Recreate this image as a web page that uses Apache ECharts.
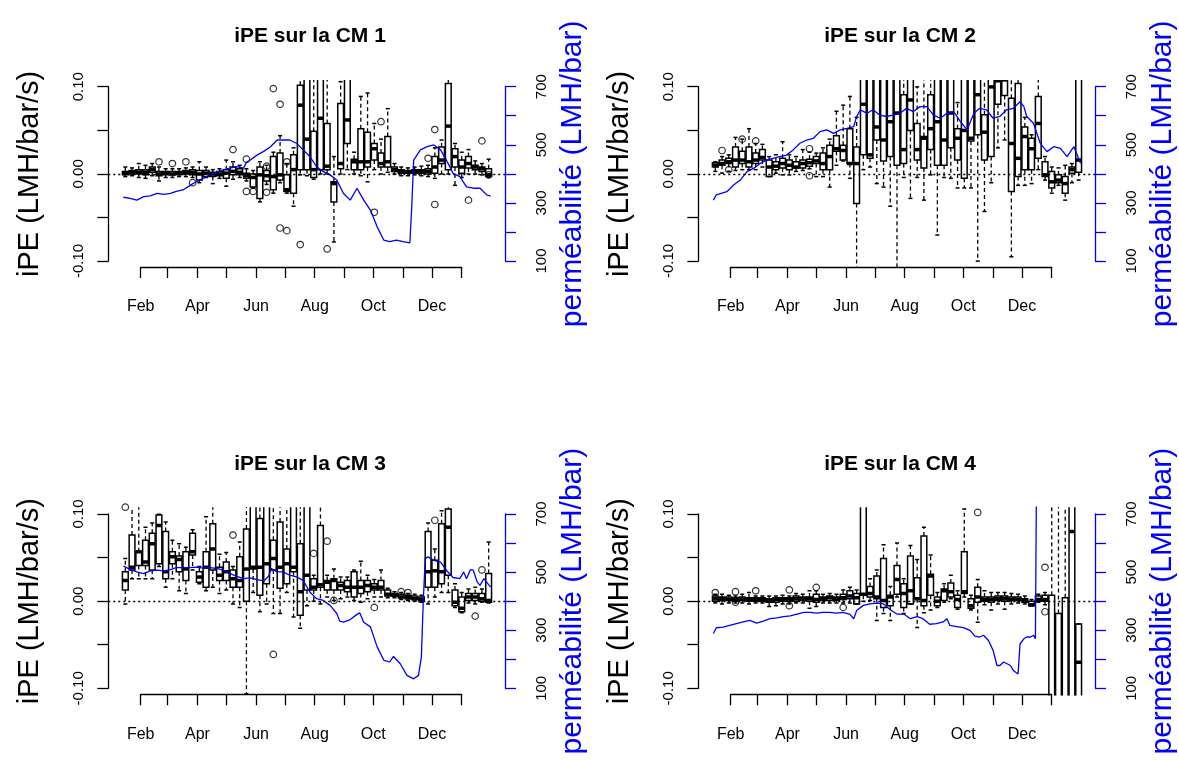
<!DOCTYPE html>
<html><head><meta charset="utf-8">
<script src="https://cdn.jsdelivr.net/npm/echarts@6/dist/echarts.min.js"></script>
<style>html,body{margin:0;padding:0;background:#fff}#c{width:1179px;height:762px}</style>
</head><body><div id="c"></div><script>
// ---- data ----
const boxDays = [15,22,29,36,43,50,57,64,71,78,85,92,99,106,113,120,127,134,141,148,155,162,169,176,183,190,197,204,211,218,225,232,239,246,253,260,267,274,281,288,295,302,309,316,323,330,337,344,351,358,365,372,379,386,393];
const monthTicks = [31,59,90,120,151,181,212,243,273,304,334,365];
const monthLabelDays = [31,90,151,212,273,334];
const monthLabels = ['Feb','Apr','Jun','Aug','Oct','Dec'];
const panelTitles = ['iPE sur la CM 1','iPE sur la CM 2','iPE sur la CM 3','iPE sur la CM 4'];

// boxes: [min, q1, median, q3, max]
const cm1Boxes = [
[-0.003,-0.001,0.001,0.003,0.008],[-0.002,0.000,0.002,0.004,0.007],[-0.004,0.000,0.002,0.005,0.012],[-0.005,-0.001,0.002,0.005,0.010],[-0.002,0.002,0.005,0.008,0.012],
[-0.008,-0.002,0.000,0.003,0.008],[-0.004,-0.001,0.001,0.003,0.006],[-0.004,-0.001,0.000,0.003,0.006],[-0.003,-0.001,0.001,0.003,0.006],[-0.003,0.000,0.002,0.004,0.007],
[-0.004,-0.001,0.002,0.005,0.008],[-0.010,-0.007,0.000,0.004,0.014],[-0.004,-0.003,0.001,0.004,0.008],[-0.011,-0.003,0.000,0.002,0.005],[-0.005,-0.002,0.000,0.003,0.006],
[-0.014,-0.005,0.001,0.005,0.016],[-0.006,-0.001,0.003,0.008,0.014],[-0.004,-0.001,0.002,0.006,0.010],[-0.008,-0.005,-0.002,0.001,0.006],[-0.016,-0.015,-0.004,0.000,0.004],
[-0.032,-0.028,-0.001,0.008,0.014],[-0.012,-0.008,-0.002,0.004,0.010],[-0.022,-0.018,-0.003,0.020,0.025],[-0.010,-0.007,-0.001,0.024,0.044],[-0.022,-0.020,-0.018,-0.001,0.012],
[-0.037,-0.022,0.005,0.022,0.030],[-0.001,0.005,0.079,0.102,0.150],[-0.002,0.005,0.040,0.150,0.150],[-0.006,-0.004,0.005,0.049,0.150],[0.000,0.005,0.064,0.150,0.150],
[0.000,0.005,0.009,0.058,0.150],[-0.078,-0.032,-0.011,-0.009,0.020],[0.000,0.006,0.012,0.081,0.106],[0.005,0.035,0.062,0.150,0.150],[0.000,0.005,0.014,0.017,0.025],
[-0.002,0.005,0.014,0.052,0.089],[-0.009,0.008,0.014,0.048,0.093],[0.005,0.016,0.029,0.035,0.058],[0.000,0.008,0.012,0.024,0.040],[0.002,0.008,0.014,0.043,0.075],
[0.000,0.003,0.005,0.008,0.012],[-0.002,0.001,0.003,0.005,0.008],[-0.002,0.001,0.002,0.004,0.007],[-0.001,0.001,0.003,0.005,0.008],[-0.002,0.001,0.003,0.005,0.009],
[-0.003,0.000,0.003,0.006,0.010],[-0.005,0.001,0.008,0.020,0.030],[0.000,0.012,0.016,0.031,0.039],[0.000,0.005,0.055,0.104,0.110],[-0.013,0.008,0.020,0.029,0.035],
[-0.004,0.001,0.008,0.016,0.025],[0.000,0.007,0.012,0.020,0.028],[0.000,0.005,0.008,0.010,0.015],[-0.001,0.003,0.006,0.008,0.012],[-0.004,-0.003,-0.001,0.006,0.017]
];
const cm2Boxes = [
[0.003,0.008,0.010,0.013,0.014],[0.001,0.010,0.012,0.016,0.020],[0.003,0.012,0.014,0.018,0.022],[0.004,0.008,0.016,0.031,0.042],[0.005,0.012,0.016,0.026,0.040],
[0.005,0.008,0.014,0.031,0.052],[0.005,0.012,0.016,0.024,0.035],[0.008,0.016,0.019,0.028,0.034],[-0.003,-0.003,0.008,0.016,0.020],[0.001,0.005,0.009,0.014,0.022],
[-0.001,0.007,0.012,0.018,0.037],[-0.001,0.005,0.010,0.016,0.022],[0.003,0.007,0.008,0.014,0.020],[0.004,0.007,0.012,0.016,0.028],[0.006,0.009,0.013,0.017,0.025],
[-0.003,0.012,0.015,0.020,0.024],[-0.003,0.005,0.012,0.024,0.030],[-0.015,0.005,0.020,0.033,0.040],[0.010,0.026,0.029,0.044,0.072],[0.015,0.016,0.027,0.033,0.079],
[-0.005,0.012,0.012,0.052,0.089],[-0.110,-0.034,0.012,0.031,0.065],[0.005,0.022,0.080,0.150,0.150],[0.008,0.018,0.022,0.150,0.150],[-0.011,0.039,0.054,0.150,0.150],
[-0.015,0.015,0.039,0.150,0.150],[-0.037,0.020,0.060,0.150,0.150],[-0.110,0.010,0.070,0.150,0.150],[-0.004,0.012,0.028,0.091,0.120],[-0.028,0.050,0.085,0.150,0.150],
[-0.004,0.016,0.028,0.058,0.100],[-0.030,0.007,0.041,0.043,0.150],[-0.001,0.028,0.052,0.091,0.130],[-0.070,0.010,0.060,0.150,0.150],[-0.004,0.010,0.039,0.150,0.150],
[-0.005,0.030,0.070,0.150,0.150],[-0.016,0.016,0.041,0.052,0.082],[-0.016,-0.005,0.050,0.150,0.150],[-0.016,0.038,0.041,0.150,0.150],[-0.100,0.045,0.091,0.150,0.150],
[-0.043,0.016,0.048,0.068,0.150],[-0.010,0.020,0.100,0.150,0.150],[0.030,0.080,0.107,0.150,0.150],[0.039,0.090,0.108,0.150,0.150],[-0.095,-0.020,0.035,0.087,0.110],
[-0.013,-0.003,0.018,0.104,0.150],[-0.013,0.005,0.043,0.054,0.065],[-0.011,0.005,0.029,0.041,0.045],[0.005,0.018,0.058,0.089,0.150],[-0.007,-0.003,-0.001,0.014,0.020],
[-0.022,-0.016,-0.009,0.003,0.008],[-0.013,-0.010,-0.007,-0.001,0.007],[-0.030,-0.022,-0.011,-0.003,0.010],[-0.010,0.001,0.005,0.008,0.012],[-0.007,0.002,0.016,0.150,0.150]
];
const cm3Boxes = [
[-0.003,0.013,0.024,0.034,0.049],[0.026,0.036,0.039,0.076,0.150],[0.026,0.041,0.057,0.057,0.150],[0.026,0.041,0.045,0.070,0.085],[0.026,0.036,0.066,0.078,0.090],
[0.040,0.043,0.087,0.099,0.100],[0.016,0.026,0.034,0.080,0.091],[0.026,0.043,0.051,0.057,0.070],[0.012,0.034,0.048,0.052,0.066],[0.009,0.024,0.037,0.057,0.062],
[0.036,0.053,0.057,0.078,0.082],[0.020,0.022,0.028,0.034,0.040],[0.012,0.016,0.039,0.057,0.097],[0.016,0.036,0.060,0.089,0.150],[0.009,0.024,0.030,0.039,0.054],
[0.013,0.024,0.034,0.045,0.056],[-0.003,0.016,0.026,0.036,0.040],[-0.007,0.016,0.024,0.051,0.068],[-0.106,0.000,0.037,0.083,0.150],[0.010,0.037,0.039,0.150,0.150],
[-0.012,0.007,0.039,0.095,0.150],[-0.003,0.020,0.043,0.150,0.150],[-0.014,0.036,0.049,0.070,0.150],[-0.014,0.015,0.039,0.091,0.150],[0.010,0.020,0.043,0.060,0.150],
[-0.018,0.034,0.039,0.150,0.150],[-0.031,-0.016,0.011,0.066,0.150],[-0.005,0.013,0.030,0.150,0.150],[0.000,0.013,0.016,0.026,0.030],[-0.003,0.016,0.019,0.087,0.150],
[0.005,0.013,0.022,0.024,0.030],[0.001,0.013,0.024,0.026,0.037],[0.003,0.013,0.018,0.022,0.028],[0.005,0.011,0.016,0.024,0.028],[0.001,0.005,0.016,0.034,0.036],
[-0.001,0.009,0.016,0.024,0.046],[0.003,0.011,0.018,0.024,0.030],[0.005,0.013,0.016,0.020,0.025],[0.005,0.013,0.016,0.024,0.036],[0.004,0.006,0.008,0.013,0.015],
[0.004,0.006,0.007,0.009,0.011],[0.002,0.004,0.005,0.008,0.010],[0.001,0.003,0.004,0.007,0.009],[0.000,0.002,0.003,0.006,0.008],[-0.001,0.001,0.002,0.005,0.007],
[-0.003,0.016,0.034,0.080,0.090],[0.005,0.016,0.035,0.047,0.060],[0.010,0.020,0.034,0.089,0.104],[0.010,0.030,0.085,0.106,0.150],[-0.007,-0.005,-0.001,0.013,0.020],
[-0.013,-0.012,-0.008,0.005,0.010],[-0.002,0.001,0.005,0.009,0.014],[-0.003,0.001,0.005,0.009,0.016],[-0.001,0.000,0.003,0.009,0.014],[-0.002,-0.001,0.001,0.032,0.068]
];
const cm4Boxes = [
[-0.002,0.000,0.003,0.006,0.008],[-0.003,0.001,0.003,0.005,0.008],[-0.002,0.001,0.002,0.005,0.007],[-0.002,0.000,0.002,0.004,0.006],[-0.002,0.001,0.003,0.005,0.008],
[-0.003,0.000,0.002,0.004,0.010],[-0.002,0.000,0.002,0.004,0.006],[-0.002,0.000,0.002,0.004,0.006],[-0.006,-0.001,0.001,0.003,0.006],[-0.005,-0.001,0.002,0.004,0.006],
[-0.003,0.000,0.002,0.004,0.007],[-0.003,0.000,0.002,0.004,0.006],[-0.002,0.000,0.003,0.006,0.009],[-0.002,0.001,0.003,0.005,0.008],[-0.008,0.000,0.003,0.005,0.012],
[-0.006,-0.001,0.002,0.008,0.012],[-0.002,0.001,0.003,0.005,0.008],[-0.002,0.001,0.004,0.006,0.009],[-0.002,0.001,0.003,0.005,0.008],[-0.002,0.002,0.004,0.008,0.013],
[-0.002,0.003,0.006,0.012,0.016],[-0.003,-0.003,0.004,0.009,0.013],[0.000,0.007,0.008,0.150,0.150],[0.001,0.005,0.009,0.017,0.026],[-0.022,0.003,0.005,0.029,0.036],
[-0.014,-0.007,0.001,0.049,0.065],[-0.022,-0.005,0.005,0.007,0.017],[0.005,0.008,0.025,0.041,0.067],[-0.014,-0.007,0.009,0.020,0.026],[-0.003,-0.003,0.012,0.052,0.064],
[-0.030,0.003,0.003,0.027,0.048],[-0.013,-0.005,0.001,0.075,0.085],[-0.010,0.007,0.029,0.031,0.053],[-0.007,-0.005,0.000,0.005,0.010],[-0.001,0.001,0.012,0.014,0.020],
[0.003,0.005,0.011,0.021,0.030],[-0.009,-0.007,0.002,0.007,0.012],[0.005,0.009,0.011,0.057,0.106],[-0.010,-0.008,-0.005,0.003,0.007],[-0.024,-0.001,0.005,0.016,0.025],
[-0.004,0.000,0.002,0.005,0.012],[-0.010,-0.001,0.002,0.005,0.010],[-0.003,0.001,0.003,0.006,0.010],[-0.009,0.000,0.003,0.006,0.010],[-0.003,0.001,0.002,0.005,0.009],
[-0.002,0.001,0.002,0.005,0.008],[-0.003,-0.001,0.001,0.003,0.006],[-0.005,-0.005,-0.004,0.000,0.002],[-0.001,0.000,0.002,0.006,0.008],[-0.004,0.000,0.002,0.007,0.010],
[-0.200,-0.200,-0.120,0.007,0.150],[-0.200,-0.200,-0.130,-0.014,0.150],[-0.200,-0.200,-0.120,0.004,0.150],[-0.200,-0.200,0.080,0.150,0.150],[-0.200,-0.180,-0.070,-0.026,-0.026]
];

// outliers: [day, value]
const cm1Outliers = [[50,0.014],[64,0.012],[78,0.014],[85,-0.010],[127,0.028],[141,0.017],[141,-0.020],[148,-0.020],[162,0.009],[162,-0.021],[169,0.098],[176,0.080],[176,-0.062],[183,-0.065],[183,0.014],[197,-0.081],[225,-0.086],[274,-0.044],[281,0.060],[330,0.018],[337,0.051],[337,-0.035],[372,-0.030],[386,0.038],[393,-0.001]];
const cm2Outliers = [[22,0.027],[29,0.005],[43,0.040],[57,0.038],[113,0.029],[113,-0.002]];
const cm3Outliers = [[15,0.108],[127,0.076],[169,-0.061],[211,0.055],[225,0.069],[232,0.001],[274,-0.007],[302,0.011],[309,0.010],[337,0.093],[379,-0.017],[386,0.036]];
const cm4Outliers = [[15,0.010],[36,0.011],[36,-0.001],[57,0.012],[92,0.013],[92,-0.005],[120,0.016],[148,-0.007],[288,0.102],[358,0.039],[358,-0.012]];

// permeability lines
const cm1LineDays = [13,20,27,34,41,48,55,62,68,75,82,89,96,103,110,117,124,131,138,141,145,152,159,166,173,179,186,193,200,207,214,221,228,235,242,249,256,263,270,277,284,290,297,304,311,313,315,322,329,336,343,349,356,363,370,377,384,391,395];
const cm1LineVals = [320,316,310,322,325,333,330,333,340,345,360,374,385,397,405,414,420,425,420,440,448,465,478,494,517,517,517,506,483,460,425,408,397,379,333,310,351,310,276,218,172,167,172,167,163,287,448,483,494,500,483,448,402,391,356,351,351,328,324];
const cm2LineDays = [13,16,27,34,41,48,55,62,68,75,82,89,96,103,110,117,124,131,138,145,152,159,162,166,173,179,186,193,200,207,214,221,228,235,242,249,256,263,270,277,284,290,297,304,311,318,325,332,336,339,346,353,360,367,374,381,388,395];
const cm2LineVals = [310,328,339,362,379,408,420,437,448,454,460,465,483,506,517,523,546,552,540,552,557,563,598,621,609,621,603,598,603,609,626,615,632,632,603,592,609,615,580,552,609,626,621,592,598,621,626,649,632,598,575,506,477,494,488,460,494,437];
const cm3LineDays = [13,20,27,34,41,48,55,62,68,75,82,89,96,103,110,117,124,131,138,145,152,159,164,167,173,179,186,193,200,207,214,221,228,235,238,242,249,256,259,263,270,277,284,290,294,301,308,315,320,323,325,327,330,336,343,349,356,363,367,370,374,377,381,384,388,395];
const cm3LineVals = [521,510,501,495,505,507,505,509,516,516,516,518,514,516,513,507,495,486,478,481,475,470,486,513,501,501,490,484,472,432,409,403,386,358,332,328,337,355,360,328,312,243,197,191,210,185,145,133,145,208,403,547,553,541,535,507,482,478,501,478,509,507,467,455,478,449];
const cm4LineDays = [13,16,23,30,37,44,51,58,65,72,79,86,93,100,107,114,120,127,134,141,148,155,159,162,169,176,183,190,197,204,211,218,225,231,238,245,252,256,259,266,273,280,285,290,294,299,304,308,311,315,322,325,330,332,336,339,343,346,348,349];
const cm4LineVals = [289,309,311,317,323,329,334,325,332,340,343,347,350,356,362,362,359,362,362,359,362,355,340,368,386,391,394,391,371,356,356,340,347,340,321,323,329,340,317,313,309,300,280,277,283,266,231,179,179,191,179,162,150,253,271,277,277,283,271,760];

// ---- chart ----
const FONT = 'Liberation Sans, Arial, sans-serif';
const BLUE = '#0000ff';
const BOX_W = 6; // days
const panels = [
  {boxes: cm1Boxes, out: cm1Outliers, ld: cm1LineDays, lv: cm1LineVals},
  {boxes: cm2Boxes, out: cm2Outliers, ld: cm2LineDays, lv: cm2LineVals},
  {boxes: cm3Boxes, out: cm3Outliers, ld: cm3LineDays, lv: cm3LineVals},
  {boxes: cm4Boxes, out: cm4Outliers, ld: cm4LineDays, lv: cm4LineVals}
];

function renderBox(params, api) {
  const x = api.value(0);
  const pMn = api.coord([x, api.value(1)]);
  const pQ1 = api.coord([x, api.value(2)]);
  const pMd = api.coord([x, api.value(3)]);
  const pQ3 = api.coord([x, api.value(4)]);
  const pMx = api.coord([x, api.value(5)]);
  const hw = api.size([BOX_W, 0])[0] / 2;
  const sw = hw * 0.7;
  const cx = pMd[0];
  const solid = {stroke: '#000', lineWidth: 1.5, fill: null};
  const dash = {stroke: '#000', lineWidth: 1.3, lineDash: [4, 3], fill: null};
  return {type: 'group', children: [
    {type: 'line', shape: {x1: cx, y1: pQ3[1], x2: cx, y2: pMx[1]}, style: dash},
    {type: 'line', shape: {x1: cx, y1: pQ1[1], x2: cx, y2: pMn[1]}, style: dash},
    {type: 'line', shape: {x1: cx - sw, y1: pMx[1], x2: cx + sw, y2: pMx[1]}, style: solid},
    {type: 'line', shape: {x1: cx - sw, y1: pMn[1], x2: cx + sw, y2: pMn[1]}, style: solid},
    {type: 'rect', shape: {x: cx - hw, y: pQ3[1], width: 2 * hw, height: pQ1[1] - pQ3[1]}, style: {stroke: '#000', lineWidth: 1.5, fill: 'rgba(0,0,0,0)'}},
    {type: 'line', shape: {x1: cx - hw, y1: pMd[1], x2: cx + hw, y2: pMd[1]}, style: {stroke: '#000', lineWidth: 3.5}}
  ]};
}

const grid = [], xAxis = [], yAxis = [], series = [], title = [];
panels.forEach((p, i) => {
  const ox = (i % 2) * 590, oy = Math.floor(i / 2) * 427.3;
  const gB = 2 * i, gA = 2 * i + 1;
  grid.push({left: 108.3 + ox, top: 79.9 + oy, width: 396.7, height: 188.2});
  grid.push({left: 140.7 + ox, top: 86.7 + oy, width: 321, height: 174.3});
  xAxis.push({gridIndex: gB, type: 'value', min: -2.7, max: 410, show: false});
  xAxis.push({gridIndex: gA, type: 'value', min: 31, max: 365, position: 'bottom', offset: 6,
    axisLine: {show: true, onZero: false, lineStyle: {color: '#000', width: 1.3}},
    axisTick: {show: true, length: 11, customValues: monthTicks, lineStyle: {color: '#000', width: 1.3}},
    axisLabel: {customValues: monthLabelDays, formatter: v => monthLabels[monthLabelDays.indexOf(v)],
      margin: 32, fontSize: 16, color: '#000', fontFamily: FONT},
    splitLine: {show: false}});
  yAxis.push({gridIndex: gB, type: 'value', min: -0.108, max: 0.108, show: false});
  yAxis.push({gridIndex: gB, type: 'value', min: 76, max: 724, show: false});
  yAxis.push({gridIndex: gA, type: 'value', min: -0.1, max: 0.1, interval: 0.05, position: 'left', offset: 32.4,
    axisLine: {show: true, onZero: false, lineStyle: {color: '#000', width: 1.3}},
    axisTick: {show: true, length: 11, lineStyle: {color: '#000', width: 1.3}},
    axisLabel: {rotate: 90, margin: 22, fontSize: 15, color: '#000', fontFamily: FONT,
      formatter: v => Math.abs(Math.abs(v) - 0.05) < 1e-9 ? '' : v.toFixed(2)},
    splitLine: {show: false},
    name: 'iPE (LMH/bar/s)', nameLocation: 'middle', nameGap: 64, nameRotate: 90,
    nameTextStyle: {fontSize: 29, color: '#000', fontFamily: FONT}});
  yAxis.push({gridIndex: gA, type: 'value', min: 100, max: 700, interval: 100, position: 'right', offset: 43.3,
    axisLine: {show: true, onZero: false, lineStyle: {color: BLUE, width: 1.3}},
    axisTick: {show: true, length: 11, lineStyle: {color: BLUE, width: 1.3}},
    axisLabel: {rotate: 90, margin: 29, fontSize: 15, color: '#000', fontFamily: FONT,
      formatter: v => (Math.round(v / 100) % 2 === 1) ? String(v) : ''},
    splitLine: {show: false},
    name: 'perméabilité (LMH/bar)', nameLocation: 'middle', nameGap: 53, nameRotate: 90,
    nameTextStyle: {fontSize: 30, color: BLUE, fontFamily: FONT}});
  const yB = 4 * i;
  series.push({type: 'custom', xAxisIndex: gB, yAxisIndex: yB, clip: true, renderItem: renderBox,
    encode: {x: 0, y: [1, 2, 3, 4, 5]},
    data: boxDays.map((d, k) => [d].concat(p.boxes[k])), z: 2});
  series.push({type: 'scatter', xAxisIndex: gB, yAxisIndex: yB, symbol: 'circle', symbolSize: 6.5,
    itemStyle: {color: 'rgba(0,0,0,0)', borderColor: '#000', borderWidth: 1.2},
    data: p.out, z: 2,
    markLine: {silent: true, symbol: 'none', label: {show: false}, animation: false,
      lineStyle: {color: '#000', type: [2, 3], width: 1.3}, data: [{yAxis: 0}]}});
  series.push({type: 'line', xAxisIndex: gB, yAxisIndex: yB + 1, showSymbol: false, symbol: 'none',
    lineStyle: {color: BLUE, width: 1.3}, itemStyle: {color: BLUE}, z: 3,
    data: p.ld.map((d, k) => [d, p.lv[k]])});
  title.push({text: panelTitles[i], left: 305 + ox, top: 21 + oy, textAlign: 'center',
    textStyle: {fontSize: 21, fontWeight: 'bold', color: '#000', fontFamily: FONT}});
});

const chart = echarts.init(document.getElementById('c'), null, {renderer: 'canvas'});
chart.setOption({animation: false, backgroundColor: '#fff', title, grid, xAxis, yAxis, series});
</script></body></html>
